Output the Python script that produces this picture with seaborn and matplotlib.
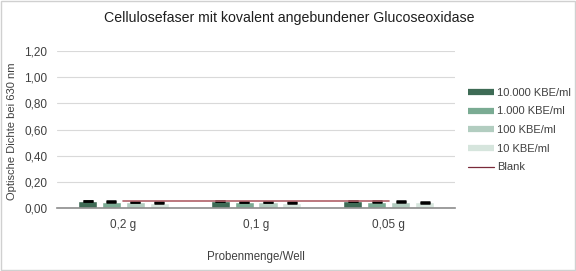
import matplotlib
matplotlib.use("Agg")
import matplotlib.pyplot as plt
import seaborn as sns
import pandas as pd
import numpy as np
from matplotlib.lines import Line2D
from matplotlib.patches import Rectangle

categories = ["0,2 g", "0,1 g", "0,05 g"]
series = ["10.000 KBE/ml", "1.000 KBE/ml", "100 KBE/ml", "10 KBE/ml"]
val_10000 = [0.055, 0.054, 0.054]
val_1000 = [0.050, 0.045, 0.050]
val_100 = [0.045, 0.046, 0.050]
val_10 = [0.040, 0.042, 0.045]
err_10000 = [0.002, 0.002, 0.002]
err_1000 = [0.002, 0.002, 0.002]
err_100 = [0.002, 0.002, 0.002]
err_10 = [0.003, 0.003, 0.003]
blank = [0.055, 0.055, 0.055]
yticks = [0.0, 0.2, 0.4, 0.6, 0.8, 1.0, 1.2]

colors = ["#3e6b55", "#7aab93", "#b2cdc0", "#d6e5dd"]
blank_color = "#b06068"

sns.set_theme(style="white")
plt.rcParams['font.family'] = ['Liberation Sans', 'DejaVu Sans']

vals = [val_10000, val_1000, val_100, val_10]
errs = [err_10000, err_1000, err_100, err_10]
rows = []
for s, v in zip(series, vals):
    for c, x in zip(categories, v):
        rows.append({"Probe": c, "Serie": s, "OD": x})
df = pd.DataFrame(rows)

fig = plt.figure(figsize=(5.76, 2.71), dpi=100)
ax = fig.add_axes([0.099, 0.232, 0.691, 0.58])

sns.barplot(data=df, x="Probe", y="OD", hue="Serie", order=categories,
            hue_order=series, palette=colors, width=0.72, gap=0.2,
            errorbar=None, ax=ax, legend=False, saturation=1)

for cont, e in zip(ax.containers, errs):
    xs = [p.get_x() + p.get_width() / 2 for p in cont]
    hs = [p.get_height() for p in cont]
    ax.errorbar(xs, hs, yerr=e, fmt="none", ecolor="black", elinewidth=1,
                capsize=3.5, capthick=1.8, zorder=4)

ax.plot(range(len(categories)), blank, color=blank_color, lw=1.2, zorder=5)

ax.set_ylim(0, 1.2)
ax.set_xlim(-0.5, 2.5)
ax.set_yticks(yticks)
ax.set_yticklabels([f"{t:.2f}".replace(".", ",") for t in yticks],
                   fontsize=8.5, color="#404040")
ax.tick_params(axis="x", labelsize=8.5, colors="#404040", length=0, pad=8)
ax.tick_params(axis="y", length=0, pad=7)
ax.yaxis.grid(True, color="#d9d9d9", lw=0.8)
ax.set_axisbelow(True)
for s in ["top", "right", "left"]:
    ax.spines[s].set_visible(False)
ax.spines["bottom"].set_color("#8c8c8c")
ax.spines["bottom"].set_linewidth(1.2)

ax.set_xlabel("Probenmenge/Well", fontsize=8.3, color="#404040")
ax.xaxis.set_label_coords(0.5, -0.275)
ax.set_ylabel("Optische Dichte bei 630 nm", fontsize=8, color="#404040")
ax.yaxis.set_label_coords(-0.10, 0.49)

fig.text(0.503, 0.935, "Cellulosefaser mit kovalent angebundener Glucoseoxidase",
         ha="center", va="center", fontsize=10.2, color="#1f1f1f")

handles = [Line2D([0], [0], color=c, lw=4.5, solid_capstyle="butt") for c in colors]
handles.append(Line2D([0], [0], color="#7a2a3a", lw=0.9))
leg = fig.legend(handles, series + ["Blank"], loc="center left",
                 bbox_to_anchor=(0.809, 0.52), frameon=False, fontsize=8,
                 handlelength=2.3, labelspacing=0.78, handletextpad=0.3,
                 borderaxespad=0, borderpad=0.2)
for t in leg.get_texts():
    t.set_color("#404040")

fig.patches.append(Rectangle((0.001, 0.002), 0.997, 0.995, transform=fig.transFigure,
                             fill=False, edgecolor="#d0d0d0", lw=1))

fig.savefig("out.png", dpi=100)
